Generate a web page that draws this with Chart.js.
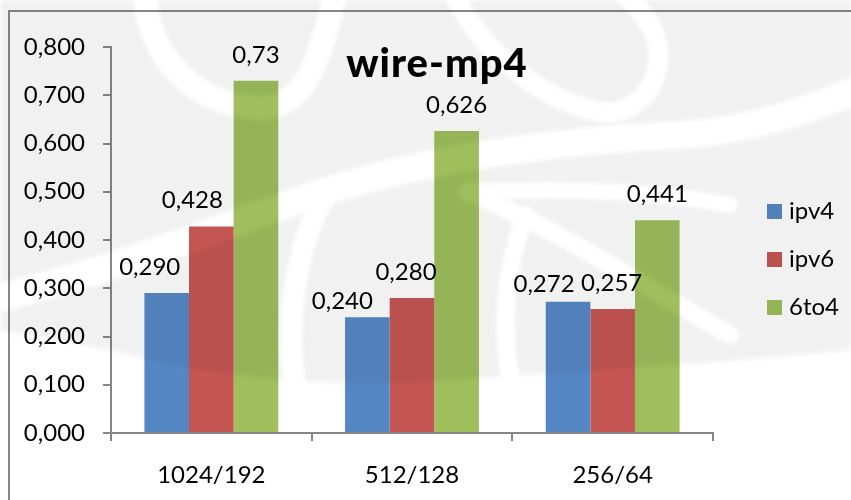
<!DOCTYPE html>
<html>
<head>
<meta charset="utf-8">
<title>wire-mp4</title>
<script src="https://cdn.jsdelivr.net/npm/chart.js@4/dist/chart.umd.min.js"></script>
<style>
  html, body { margin: 0; padding: 0; background: #ffffff; }
  #wrap { width: 851px; height: 500px; }
</style>
</head>
<body>
<div id="wrap"><canvas id="c" width="851" height="500"></canvas></div>
<script>
// Categories and series values
const categories = ['1024/192', '512/128', '256/64'];
const seriesNames = ['ipv4', 'ipv6', '6to4'];
const ipv4Values = [0.290, 0.240, 0.272];
const ipv6Values = [0.428, 0.280, 0.257];
const sixTo4Values = [0.73, 0.626, 0.441];
// Value labels printed above the bars
const ipv4Labels = ['0,290', '0,240', '0,272'];
const ipv6Labels = ['0,428', '0,280', '0,257'];
const sixTo4Labels = ['0,73', '0,626', '0,441'];
// Value axis
const yMin = 0;
const yMax = 0.8;
const yStep = 0.1;

const FONT = 'Lato, "Open Sans", "DejaVu Sans", sans-serif';
const AXIS_GREY = '#878787';

// White page background and outer frame
const framePlugin = {
  id: 'frame',
  beforeDraw(chart) {
    const ctx = chart.ctx;
    ctx.save();
    ctx.fillStyle = '#ffffff';
    ctx.fillRect(0, 0, chart.width, chart.height);
    ctx.restore();
  },
  afterDraw(chart) {
    const ctx = chart.ctx;
    ctx.save();
    ctx.strokeStyle = AXIS_GREY;
    ctx.lineWidth = 2;
    ctx.strokeRect(9, 11, chart.width + 20, chart.height + 20);
    ctx.restore();
  }
};

// Faint grey emblem printed behind the page, multiplied over everything
const emblemPlugin = {
  id: 'emblem',
  afterDraw(chart) {
    const w = chart.width, h = chart.height;
    const off = document.createElement('canvas');
    off.width = w; off.height = h;
    const o = off.getContext('2d');
    o.fillStyle = '#ffffff';
    o.fillRect(0, 0, w, h);
    o.filter = 'blur(2px)';
    o.fillStyle = '#f1f1f1';
    o.beginPath();
    o.moveTo(0, 0);
    o.lineTo(w, 0);
    o.lineTo(w, 350);
    o.bezierCurveTo(700, 365, 560, 372, 450, 380);
    o.bezierCurveTo(330, 390, 200, 375, 120, 352);
    o.lineTo(0, 330);
    o.closePath();
    o.fill();

    o.strokeStyle = '#ffffff';
    o.lineCap = 'round';
    // long sweeping band
    o.lineWidth = 28;
    o.beginPath();
    o.moveTo(-10, 300);
    o.bezierCurveTo(120, 270, 250, 215, 330, 190);
    o.bezierCurveTo(430, 158, 560, 140, 680, 135);
    o.bezierCurveTo(760, 130, 820, 105, 870, 85);
    o.stroke();
    // upper left hook
    o.lineWidth = 24;
    o.beginPath();
    o.moveTo(145, -5);
    o.bezierCurveTo(150, 60, 195, 105, 260, 108);
    o.bezierCurveTo(305, 108, 320, 60, 335, -5);
    o.stroke();
    // upper right loop
    o.lineWidth = 20;
    o.beginPath();
    o.moveTo(455, -5);
    o.bezierCurveTo(480, 50, 540, 100, 600, 112);
    o.bezierCurveTo(650, 118, 672, 60, 650, 25);
    o.bezierCurveTo(640, 8, 630, 0, 625, -5);
    o.stroke();
    // lower fan strokes
    o.lineWidth = 22;
    o.beginPath();
    o.moveTo(325, 195);
    o.bezierCurveTo(295, 250, 285, 320, 295, 390);
    o.stroke();
    o.lineWidth = 18;
    o.beginPath();
    o.moveTo(468, 192);
    o.bezierCurveTo(560, 230, 650, 290, 730, 335);
    o.stroke();
    o.beginPath();
    o.moveTo(525, 215);
    o.bezierCurveTo(505, 270, 500, 330, 512, 385);
    o.stroke();
    o.lineWidth = 16;
    o.beginPath();
    o.moveTo(468, 192);
    o.bezierCurveTo(560, 188, 650, 190, 730, 205);
    o.stroke();

    const ctx = chart.ctx;
    ctx.save();
    ctx.globalCompositeOperation = 'multiply';
    ctx.drawImage(off, 0, 0);
    ctx.restore();
  }
};

// Chart title drawn inside the plot area
const titlePlugin = {
  id: 'insideTitle',
  afterDatasetsDraw(chart) {
    const ctx = chart.ctx;
    ctx.save();
    ctx.font = '900 40px ' + FONT;
    ctx.letterSpacing = '1px';
    ctx.fillStyle = '#000000';
    ctx.textAlign = 'left';
    ctx.textBaseline = 'alphabetic';
    const tw = ctx.measureText('wire-mp4').width;
    ctx.fillText('wire-mp4', 437 - tw / 2, 77);
    ctx.restore();
  }
};

// Value labels above each bar
const valueLabelPlugin = {
  id: 'valueLabels',
  afterDatasetsDraw(chart) {
    const ctx = chart.ctx;
    ctx.save();
    ctx.font = '24px ' + FONT;
    ctx.fillStyle = '#000000';
    ctx.textAlign = 'center';
    ctx.textBaseline = 'alphabetic';
    chart.data.datasets.forEach((ds, i) => {
      const meta = chart.getDatasetMeta(i);
      meta.data.forEach((bar, j) => {
        const nudge = ds.labelNudge[j];
        ctx.fillText(ds.valueLabels[j], bar.x + nudge[0], bar.y - 18 + nudge[1]);
      });
    });
    ctx.restore();
  }
};

// Legend to the right of the plot
const sideLegendPlugin = {
  id: 'sideLegend',
  afterDatasetsDraw(chart) {
    const ctx = chart.ctx;
    ctx.save();
    ctx.font = '24px ' + FONT;
    ctx.textAlign = 'left';
    ctx.textBaseline = 'middle';
    chart.data.datasets.forEach((ds, i) => {
      const cy = 211 + i * 48;
      ctx.fillStyle = ds.backgroundColor;
      ctx.fillRect(767, cy - 7, 15, 15);
      ctx.fillStyle = '#000000';
      ctx.fillText(ds.label, 789, cy);
    });
    ctx.restore();
  }
};

const chart = new Chart(document.getElementById('c'), {
  type: 'bar',
  data: {
    labels: categories,
    datasets: [
      { label: seriesNames[0], data: ipv4Values, valueLabels: ipv4Labels,
        labelNudge: [[-17, 0], [-25, 10], [-24, 8]], backgroundColor: '#5587c5' },
      { label: seriesNames[1], data: ipv6Values, valueLabels: ipv6Labels,
        labelNudge: [[-19, 0], [-6, 0], [-1, 0]], backgroundColor: '#c55552' },
      { label: seriesNames[2], data: sixTo4Values, valueLabels: sixTo4Labels,
        labelNudge: [[0, 0], [0, 0], [0, 0]], backgroundColor: '#9ebf5c' }
    ]
  },
  options: {
    responsive: false,
    animation: false,
    devicePixelRatio: 1,
    layout: { padding: { left: 0, top: 47, right: 138, bottom: 0 } },
    datasets: {
      bar: { categoryPercentage: 0.667, barPercentage: 1.0, borderWidth: 0 }
    },
    plugins: {
      legend: { display: false },
      title: { display: false },
      tooltip: { enabled: false }
    },
    scales: {
      x: {
        grid: {
          display: true,
          offset: true,
          drawOnChartArea: false,
          drawTicks: true,
          tickLength: 8,
          color: AXIS_GREY,
          lineWidth: 2
        },
        border: { display: true, color: AXIS_GREY, width: 2 },
        ticks: {
          color: '#000000',
          font: { family: FONT, size: 24 },
          padding: 20,
          maxRotation: 0
        },
        afterFit(scale) { scale.height = 67; }
      },
      y: {
        min: yMin,
        max: yMax,
        grid: {
          display: true,
          drawOnChartArea: false,
          drawTicks: true,
          tickLength: 8,
          color: AXIS_GREY,
          lineWidth: 2
        },
        border: { display: true, color: AXIS_GREY, width: 2 },
        ticks: {
          stepSize: yStep,
          color: '#000000',
          font: { family: FONT, size: 24 },
          padding: 18,
          callback: (v) => Number(v).toFixed(3).replace('.', ',')
        },
        afterFit(scale) { scale.width = 111; }
      }
    }
  },
  plugins: [framePlugin, titlePlugin, valueLabelPlugin, sideLegendPlugin, emblemPlugin]
});
</script>
</body>
</html>
